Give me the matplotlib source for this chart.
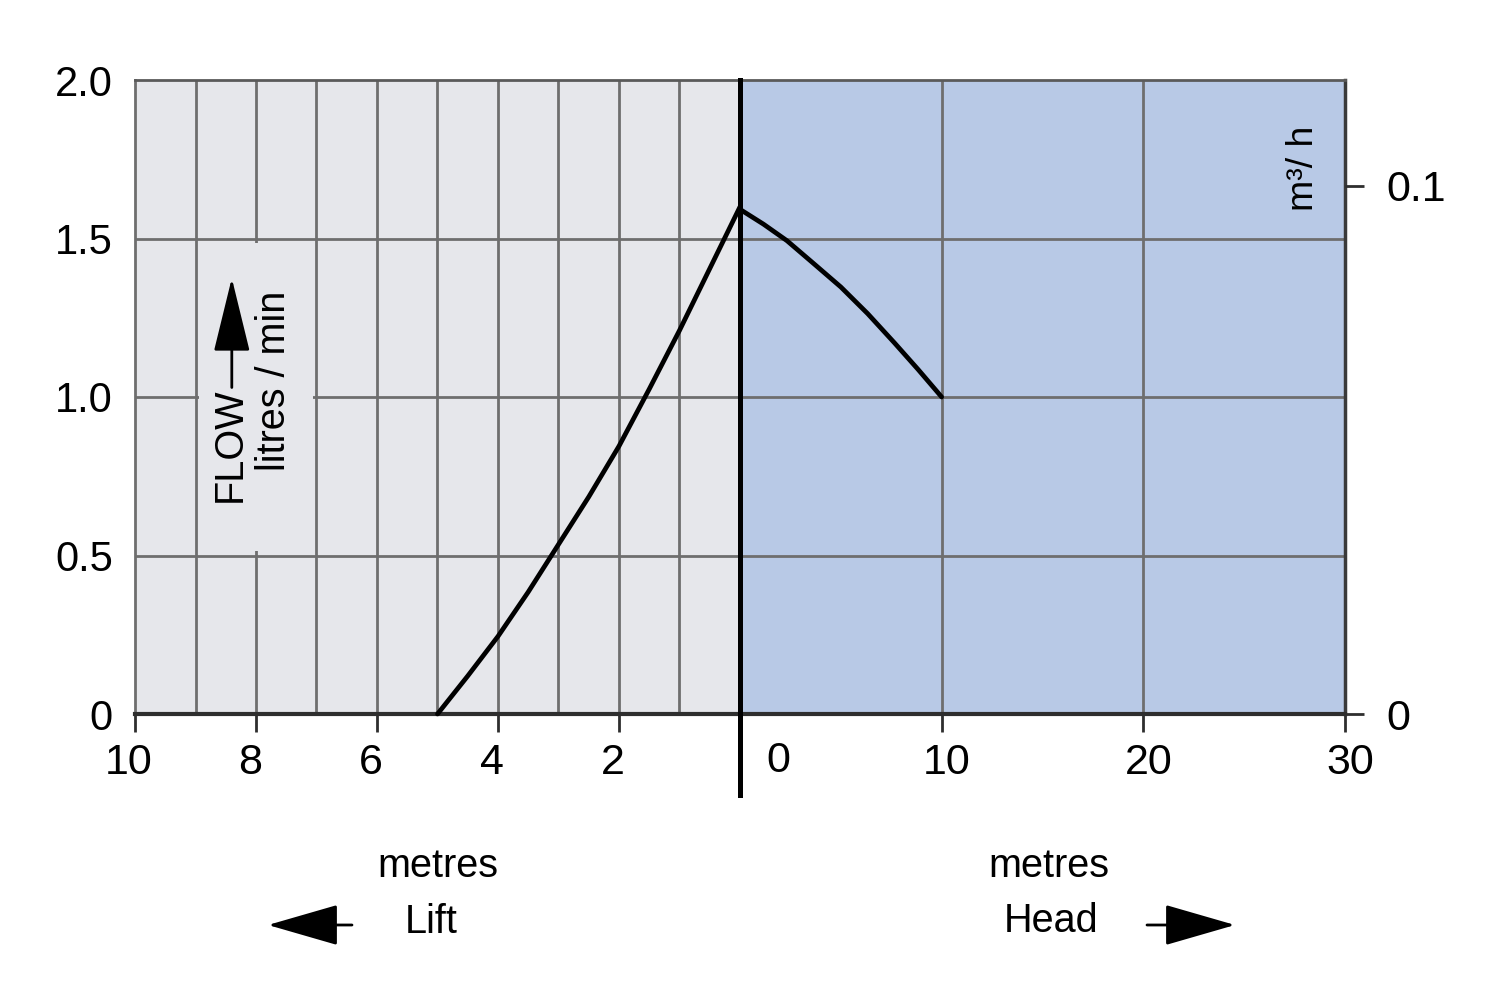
import matplotlib
matplotlib.use('Agg')
import matplotlib.pyplot as plt
from matplotlib import font_manager
from matplotlib.patches import Rectangle, FancyArrowPatch
import matplotlib.transforms as mtransforms

# ---- data ----
lift_m = [0, 0.5, 1, 1.5, 2, 2.5, 3, 3.5, 4, 4.5, 5]
lift_flow = [1.60, 1.405, 1.21, 1.025, 0.845, 0.685, 0.535, 0.385, 0.245, 0.12, 0.0]
head_m = [0, 1.17, 2.33, 3.67, 5.0, 6.33, 7.67, 8.83, 10]
head_flow = [1.592, 1.545, 1.493, 1.42, 1.347, 1.263, 1.17, 1.087, 1.0]

lift_ticks = [10, 8, 6, 4, 2]
lift_ticklabels = ['10', '8', '6', '4', '2']
head_ticks = [10, 20, 30]
head_ticklabels = ['10', '20', '30']
flow_ticks = [0, 0.5, 1.0, 1.5, 2.0]
flow_ticklabels = ['0', '0.5', '1.0', '1.5', '2.0']
m3h_ticks = [0, 0.1]
m3h_ticklabels = ['0', '0.1']
LPM_TO_M3H = 0.06

lift_grid_x = [1, 2, 3, 4, 5, 6, 7, 8, 9]
head_grid_x = [10, 20]
flow_grid_y = [0.5, 1.0, 1.5]

# ---- fonts ----
names = {f.name for f in font_manager.fontManager.ttflist}
if 'Liberation Sans Narrow' in names:
    NARROW = 'Liberation Sans Narrow'
    NS = 1.0
else:
    NARROW = 'Liberation Sans'
    NS = 0.84
REG = 'Liberation Sans'
plt.rcParams['font.family'] = [REG, 'DejaVu Sans']

BG_L = '#E6E7EB'
BG_R = '#B8C9E6'
GRID = '#6E6E6E'
DARK = '#2E2E2E'

W, H = 1500, 1001
fig = plt.figure(figsize=(15, 10.01), dpi=100)
fig.patch.set_facecolor('white')


def rect(x0, y_top, x1, y_bot):
    return [x0 / W, (H - y_bot) / H, (x1 - x0) / W, (y_bot - y_top) / H]


axL = fig.add_axes(rect(135, 80, 740, 714))
axR = fig.add_axes(rect(740, 80, 1345, 714))

axL.set_facecolor(BG_L)
axR.set_facecolor(BG_R)
axL.set_xlim(10, 0)
axL.set_ylim(0, 2.0)
axR.set_xlim(0, 30)
axR.set_ylim(0, 2.0)

for v in lift_grid_x:
    axL.axvline(v, color=GRID, lw=2, zorder=1)
for v in head_grid_x:
    axR.axvline(v, color=GRID, lw=2, zorder=1)
for h in flow_grid_y:
    axL.axhline(h, color=GRID, lw=2, zorder=1)
    axR.axhline(h, color=GRID, lw=2, zorder=1)

# spines
axL.spines['right'].set_visible(False)
axL.spines['left'].set_color(GRID)
axL.spines['left'].set_linewidth(2)
axL.spines['top'].set_color('#5A5A5A')
axL.spines['top'].set_linewidth(2)
axL.spines['bottom'].set_color(DARK)
axL.spines['bottom'].set_linewidth(3)
axR.spines['left'].set_visible(False)
axR.spines['top'].set_color('#5A5A5A')
axR.spines['top'].set_linewidth(2)
axR.spines['right'].set_color('#3A3A3A')
axR.spines['right'].set_linewidth(2.5)
axR.spines['bottom'].set_color(DARK)
axR.spines['bottom'].set_linewidth(3)

# ticks
axL.set_xticks(lift_ticks, lift_ticklabels)
axL.tick_params(axis='x', length=13, width=2, color=DARK, pad=8, labelsize=31, direction='out')
axL.set_yticks(flow_ticks, flow_ticklabels)
axL.tick_params(axis='y', length=0, pad=16, labelsize=30)
axR.set_xticks(head_ticks, head_ticklabels)
axR.tick_params(axis='x', length=13, width=2, color=DARK, pad=8, labelsize=31, direction='out')
axR.set_yticks([])

for lbl in axL.get_xticklabels():
    lbl.set_transform(lbl.get_transform() + mtransforms.ScaledTranslation(-0.06, 0, fig.dpi_scale_trans))
for lbl in axR.get_xticklabels():
    lbl.set_transform(lbl.get_transform() + mtransforms.ScaledTranslation(0.05, 0, fig.dpi_scale_trans))

# head "0" label (shifted right of the divider)
axR.text(0, 0, '0', fontsize=31, ha='center', va='top',
         transform=axR.get_xaxis_transform() + mtransforms.ScaledTranslation(0.38, -0.27, fig.dpi_scale_trans))

# secondary axis m3/h
axR2 = axR.twinx()
axR2.set_ylim(0, 2.0 * LPM_TO_M3H)
axR2.set_yticks(m3h_ticks, m3h_ticklabels)
axR2.tick_params(axis='y', length=14, width=2, color=DARK, pad=16, labelsize=31)
for s in axR2.spines.values():
    s.set_visible(False)

# divider (on the right axes so it is not hidden by its background)
axR.axvline(0, ymin=-(795 - 714) / 634, ymax=1, color='black', lw=3.6, zorder=6, clip_on=False)

# curves
axL.plot(lift_m, lift_flow, color='black', lw=3.4, zorder=5, clip_on=False,
         solid_joinstyle='round', solid_capstyle='round')
axR.plot(head_m, head_flow, color='black', lw=3.4, zorder=5, clip_on=False,
         solid_joinstyle='round', solid_capstyle='round')

# label box
axL.add_patch(Rectangle((7.06, 0.515), 1.88, 0.97, facecolor=BG_L, edgecolor='none', zorder=1.5))
axL.text(8.43, 0.85, 'FLOW', rotation=90, ha='center', va='center', fontsize=34 * NS, family=NARROW, zorder=3)
axL.text(7.70, 1.05, 'litres / min', rotation=90, ha='center', va='center', fontsize=34 * NS, family=NARROW, zorder=3)
axL.annotate('', xy=(8.40, 1.375), xytext=(8.40, 1.03),
             arrowprops=dict(arrowstyle='-|>,head_length=47,head_width=11.5', mutation_scale=1,
                             lw=2, color='black', shrinkA=0, shrinkB=0), zorder=3)

axR.text(27.92, 1.722, 'm³/ h', rotation=90, ha='center', va='center', fontsize=32 * NS, family=NARROW, zorder=3)

# bottom labels
fig.text(438 / W, 1 - 877 / H, 'metres', ha='center', va='baseline', fontsize=34 * NS, family=NARROW)
fig.text(431 / W, 1 - 933 / H, 'Lift', ha='center', va='baseline', fontsize=34 * NS, family=NARROW)
fig.text(1049 / W, 1 - 877 / H, 'metres', ha='center', va='baseline', fontsize=34 * NS, family=NARROW)
fig.text(1051 / W, 1 - 932 / H, 'Head', ha='center', va='baseline', fontsize=34 * NS, family=NARROW)

fig.add_artist(FancyArrowPatch((352 / W, 1 - 925 / H), (268 / W, 1 - 925 / H), transform=fig.transFigure,
                               arrowstyle='-|>,head_length=45,head_width=13', mutation_scale=1,
                               lw=2, color='black', shrinkA=0, shrinkB=0))
fig.add_artist(FancyArrowPatch((1147 / W, 1 - 925 / H), (1235 / W, 1 - 925 / H), transform=fig.transFigure,
                               arrowstyle='-|>,head_length=45,head_width=13', mutation_scale=1,
                               lw=2, color='black', shrinkA=0, shrinkB=0))

fig.savefig('out.png', dpi=100)
